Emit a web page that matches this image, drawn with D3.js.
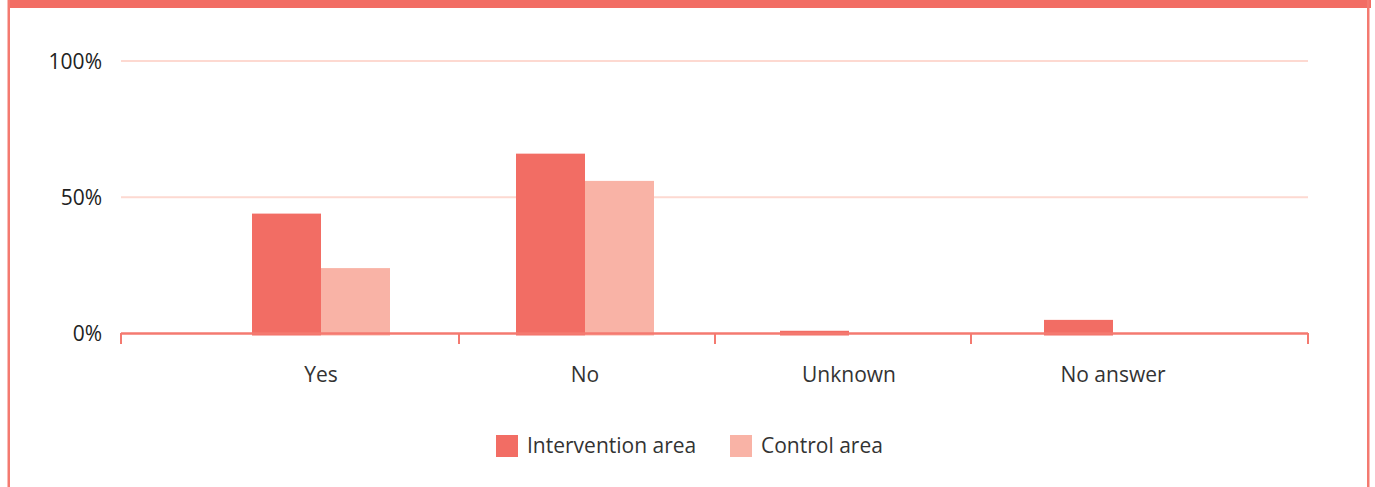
<!DOCTYPE html>
<html><head><meta charset="utf-8">
<script src="https://cdn.jsdelivr.net/npm/d3@7"></script>
<style>html,body{margin:0;padding:0;background:#fff;overflow:hidden}</style>
</head><body>
<svg id="c" width="1375" height="487"></svg>
<script>
const categories = ["Yes", "No", "Unknown", "No answer"];
const seriesNames = ["Intervention area", "Control area"];
const intervention = [44, 66, 1, 5];
const control = [24, 56, 0, 0];
const yTicks = [0, 50, 100];

const colors = ["#f26d64", "#f9b3a6"];
const svg = d3.select("#c");
const font = "'Open Sans', sans-serif";
const fs = 21;

// frame
svg.append("rect").attr("x", 8).attr("y", 0).attr("width", 1363).attr("height", 8).attr("fill", "#f26d64");
svg.append("rect").attr("x", 7.5).attr("y", 0).attr("width", 2.5).attr("height", 487).attr("fill", "#f47a70");
svg.append("rect").attr("x", 1367).attr("y", 0).attr("width", 2.5).attr("height", 487).attr("fill", "#f47a70");

const axisL = 121, axisR = 1308;
const y = d3.scaleLinear().domain([0, 100]).range([333.5, 61]);
const x = d3.scaleBand().domain(categories).range([189, 1245]).padding(0);
const inner = d3.scaleBand().domain(seriesNames).range([x.bandwidth()/2 - 69, x.bandwidth()/2 + 69]);
const tickGrid = d3.scaleBand().domain(categories).range([203, 1227]);

// gridlines
svg.append("g").selectAll("line").data(yTicks.filter(d => d > 0)).join("line")
  .attr("x1", axisL).attr("x2", axisR)
  .attr("y1", d => y(d)).attr("y2", d => y(d))
  .attr("stroke", "#fdd9d1").attr("stroke-width", 2.2);

// y labels
svg.append("g").selectAll("text").data(yTicks).join("text")
  .attr("x", 102).attr("y", d => y(d)).attr("dy", "0.36em")
  .attr("text-anchor", "end").attr("font-family", font).attr("font-size", fs)
  .attr("fill", "#222").text(d => d + "%");

// bars
const data = categories.map((c, i) => ({c, vals: [intervention[i], control[i]]}));
const groups = svg.append("g").selectAll("g").data(data).join("g")
  .attr("transform", d => `translate(${x(d.c)},0)`);
groups.selectAll("rect").data(d => d.vals.map((v, j) => ({v, s: seriesNames[j], j}))).join("rect")
  .attr("x", d => inner(d.s)).attr("width", inner.bandwidth())
  .attr("y", d => y(d.v)).attr("height", d => d.v > 0 ? y(0) - y(d.v) + 2 : 0)
  .attr("fill", d => colors[d.j]);

// axis line and ticks
const tickPos = [axisL].concat(categories.slice(1).map(c => tickGrid(c))).concat([axisR]);
svg.append("line").attr("x1", axisL).attr("x2", axisR).attr("y1", 333.5).attr("y2", 333.5)
  .attr("stroke", "#f47a70").attr("stroke-width", 2.3);
svg.append("g").selectAll("line").data(tickPos).join("line")
  .attr("x1", d => d).attr("x2", d => d).attr("y1", 333).attr("y2", 344)
  .attr("stroke", "#f47a70").attr("stroke-width", 2);

// x labels
svg.append("g").selectAll("text").data(categories).join("text")
  .attr("x", d => x(d) + x.bandwidth()/2).attr("y", 382)
  .attr("text-anchor", "middle").attr("font-family", font).attr("font-size", fs)
  .attr("fill", "#333").text(d => d);

// legend
const legendX = [496, 730];
const lg = svg.append("g").selectAll("g").data(seriesNames).join("g")
  .attr("transform", (d, i) => `translate(${legendX[i]},435)`);
lg.append("rect").attr("width", 22).attr("height", 22).attr("fill", (d, i) => colors[i]);
lg.append("text").attr("x", 31).attr("y", 18).attr("font-family", font).attr("font-size", fs)
  .attr("fill", "#333").text(d => d);
</script>
</body></html>
